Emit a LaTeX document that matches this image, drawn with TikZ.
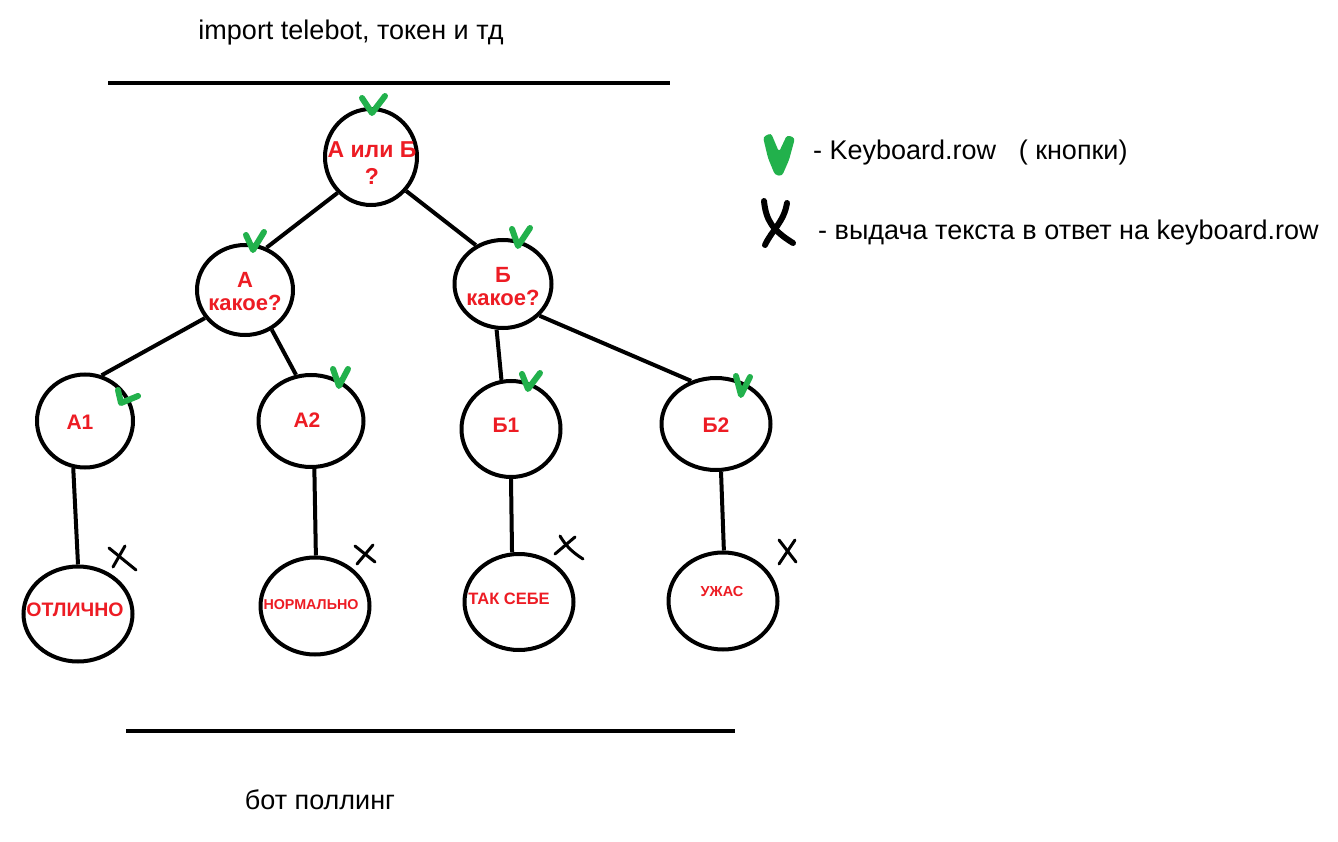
\documentclass[tikz,border=0pt]{standalone}
\usepackage{fontspec}
\setmainfont{Liberation Sans}
\usetikzlibrary{shapes.geometric}
\definecolor{pred}{HTML}{ED1C24}
\definecolor{pgreen}{HTML}{22B14C}
\tikzset{
  nd/.style={ellipse, draw=black, line width=4pt, inner sep=0pt},
  lbl/.style={text=pred, align=center, inner sep=0pt, font=\bfseries},
  edge/.style={line width=4pt},
  bar/.style={line width=3.5pt},
  chk/.style={pgreen, line width=6pt, line cap=round, line join=round},
  crs/.style={black, line width=3pt, line cap=round},
  txt/.style={inner sep=0pt, anchor=west}
}
\newcommand{\fs}[2]{\fontsize{#1}{#2}\selectfont}
\begin{document}
\begin{tikzpicture}[x=1pt,y=-1pt]
\useasboundingbox (0,0) rectangle (1338,842);
\fill[white] (0,0) rectangle (1338,842);

% title and bars
\node[inner sep=0pt] (title) at (351,33) {\fs{27}{30}import telebot, токен и тд};
\coordinate (t1) at (108,83); \coordinate (t2) at (670,83);
\draw[bar] (t1) -- (t2);
\coordinate (b1) at (126,731); \coordinate (b2) at (735,731);
\draw[bar] (b1) -- (b2);
\node[inner sep=0pt] (foot) at (320,800) {\fs{27}{30}бот поллинг};

% nodes
\node[nd, minimum width=92pt, minimum height=96pt] (root) at (371,157) {};
\node[nd, minimum width=96pt, minimum height=90pt] (ak) at (245,290) {};
\node[nd, minimum width=97pt, minimum height=88pt] (bk) at (503,284) {};
\node[nd, minimum width=96pt, minimum height=93pt] (a1) at (85,421) {};
\node[nd, minimum width=105pt, minimum height=92pt] (a2) at (311,421) {};
\node[nd, minimum width=99pt, minimum height=96pt] (b1n) at (511,429) {};
\node[nd, minimum width=109pt, minimum height=92pt] (b2n) at (716,424) {};
\node[nd, minimum width=109pt, minimum height=95pt] (otl) at (78,614) {};
\node[nd, minimum width=109pt, minimum height=97pt] (norm) at (315,606) {};
\node[nd, minimum width=109pt, minimum height=96pt] (tak) at (519,602) {};
\node[nd, minimum width=109pt, minimum height=97pt] (uzh) at (723,601) {};

% labels
\node[lbl, font=\bfseries\fs{23}{27}] (rootT) at (372,163) {А или Б\\?};
\node[lbl, font=\bfseries\fs{22}{23}] (akT) at (245,292) {А\\какое?};
\node[lbl, font=\bfseries\fs{22}{23}] (bkT) at (503,287) {Б\\какое?};
\node[lbl, font=\bfseries\fs{21}{24}] (a1T) at (80,422) {А1};
\node[lbl, font=\bfseries\fs{21}{24}] (a2T) at (307,420) {А2};
\node[lbl, font=\bfseries\fs{21}{24}] (b1T) at (506,425) {Б1};
\node[lbl, font=\bfseries\fs{21}{24}] (b2T) at (716,425) {Б2};
\node[lbl, font=\bfseries\fs{19.5}{22}] (otlT) at (75,610) {ОТЛИЧНО};
\node[lbl, font=\bfseries\fs{14.3}{16}] (normT) at (311,605) {НОРМАЛЬНО};
\node[lbl, font=\bfseries\fs{16.5}{18}] (takT) at (509,599) {ТАК СЕБЕ};
\node[lbl, font=\bfseries\fs{14.5}{16}] (uzhT) at (722,592) {УЖАС};

% connectors
\draw[edge] (root.227) -- (ak.63);
\draw[edge] (root.316) -- (bk.125);
\draw[edge] (ak.215) -- (a1.70);
\draw[edge] (ak.304) -- (a2.108);
\draw[edge] (bk.262) -- (b1n.101);
\draw[edge] (bk.319) -- (b2n.120);
\draw[edge] (a1.256) -- (otl.90);
\draw[edge] (a2.274) -- (norm.89);
\draw[edge] (b1n.270) -- (tak.98);
\draw[edge] (b2n.276) -- (uzh.89);

% green checks
\draw[chk] (362,98) -- (372,113) -- (385,96);
\draw[chk] (246,235) -- (253,250) -- (264,232);
\draw[chk] (512,229) -- (518,246) -- (530,228);
\draw[chk] (118,390) -- (121,403) -- (138,396);
\draw[chk] (333,369) -- (339,386) -- (348,369);
\draw[chk] (522,374) -- (528,389) -- (540,373);
\draw[chk] (736,376) -- (741,395) -- (750,377);

% black crosses
\draw[crs] (109,548) -- (136,570);
\draw[crs] (125,546) -- (113,567);
\draw[crs] (355,546) -- (375,562);
\draw[crs] (373,545) -- (357,564);
\draw[crs] (560,536) .. controls (566,546) and (572,552) .. (583,559);
\draw[crs] (555,554) -- (575,537);
\draw[crs] (779,540) -- (796,562);
\draw[crs] (795,540) -- (779,564);

% legend
\fill[pgreen, rounded corners=3pt] (763,137) -- (771,133) -- (779,152) -- (787,135) -- (795,138) -- (789,160) -- (782,176) -- (775,175) -- (768,158) -- cycle;
\node[txt] (leg1) at (813,153) {\fs{27}{30}- Keyboard.row \ \ ( кнопки)};
\draw[black, line width=6pt, line cap=round] (764,201) .. controls (766,220) and (772,230) .. (793,243);
\draw[black, line width=6pt, line cap=round] (787,203) .. controls (784,222) and (772,230) .. (765,245);
\node[txt] (leg2) at (818,233) {\fs{27}{30}- выдача текста в ответ на keyboard.row};
\end{tikzpicture}
\end{document}
